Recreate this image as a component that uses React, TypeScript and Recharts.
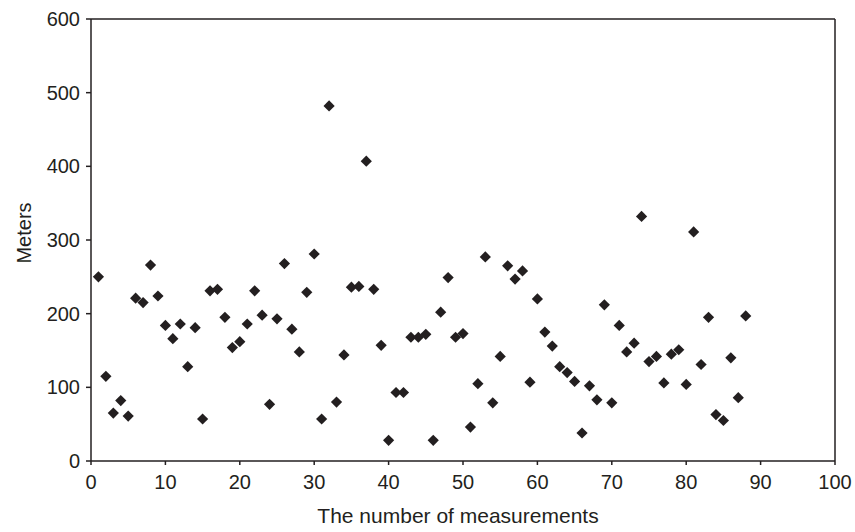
import { ScatterChart, Scatter, XAxis, YAxis, ReferenceLine } from "recharts";

const meters = [
  250, 115, 65, 82, 61, 221, 215, 266, 224, 184,
  166, 186, 128, 181, 57, 231, 233, 195, 154, 162,
  186, 231, 198, 77, 193, 268, 179, 148, 229, 281,
  57, 482, 80, 144, 236, 237, 407, 233, 157, 28,
  93, 93, 168, 168, 172, 28, 202, 249, 168, 173,
  46, 105, 277, 79, 142, 265, 247, 258, 107, 220,
  175, 156, 128, 120, 108, 38, 102, 83, 212, 79,
  184, 148, 160, 332, 135, 142, 106, 145, 151, 104,
  311, 131, 195, 63, 55, 140, 86, 197,
];

const xTicks = [0, 10, 20, 30, 40, 50, 60, 70, 80, 90, 100];
const yTicks = [0, 100, 200, 300, 400, 500, 600];

const points = meters.map((m, i) => ({ n: i + 1, m }));

const INK = "#231f20";
const FONT = "'Liberation Sans', Arial, Helvetica, sans-serif";

const Diamond = (props: any) => {
  const { cx, cy } = props;
  const r = 5.6;
  return (
    <path
      d={`M${cx},${cy - r}L${cx + r},${cy}L${cx},${cy + r}L${cx - r},${cy}Z`}
      fill={INK}
    />
  );
};

export default function App() {
  return (
    <div style={{ position: "absolute", left: 0, top: 0, background: "#fff" }}>
      <ScatterChart
        width={855}
        height={532}
        margin={{ top: 19, right: 20, bottom: 0, left: 0 }}
        style={{ fontFamily: FONT }}
      >
        <XAxis
          type="number"
          dataKey="n"
          domain={[0, 100]}
          ticks={xTicks}
          interval={0}
          height={71}
          stroke={INK}
          strokeWidth={1.5}
          tickSize={4}
          tickMargin={10}
          tick={{ fill: INK, fontSize: 20 }}
          label={{
            content: ({ viewBox }: any) => (
              <text
                x={viewBox.x + viewBox.width / 2 - 5}
                y={523}
                textAnchor="middle"
                fill={INK}
                fontSize={21}
                fontFamily={FONT}
              >
                The number of measurements
              </text>
            ),
          }}
        />
        <YAxis
          type="number"
          dataKey="m"
          domain={[0, 600]}
          ticks={yTicks}
          interval={0}
          width={91}
          stroke={INK}
          strokeWidth={1.5}
          tickSize={5}
          tickMargin={6}
          tick={{ fill: INK, fontSize: 20 }}
          label={{
            content: ({ viewBox }: any) => {
              const cy = viewBox.y + viewBox.height / 2 - 7;
              return (
                <text
                  x={24}
                  y={cy}
                  transform={`rotate(-90, 24, ${cy})`}
                  textAnchor="middle"
                  dominantBaseline="central"
                  fill={INK}
                  fontSize={20}
                  fontFamily={FONT}
                >
                  Meters
                </text>
              );
            },
          }}
        />
        <ReferenceLine y={600} stroke={INK} strokeWidth={1.5} />
        <ReferenceLine x={100} stroke={INK} strokeWidth={1.5} />
        <Scatter data={points} shape={Diamond} isAnimationActive={false} />
      </ScatterChart>
    </div>
  );
}
